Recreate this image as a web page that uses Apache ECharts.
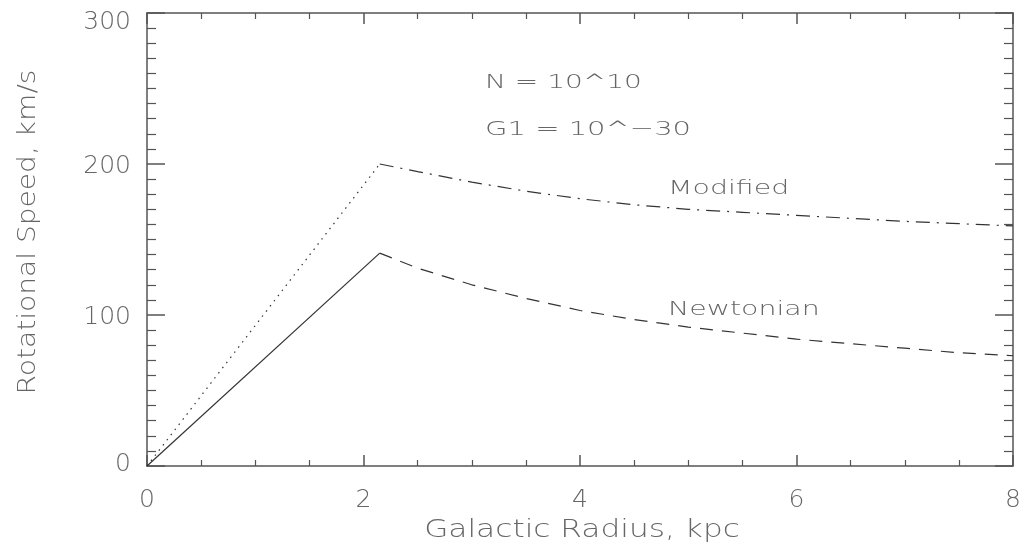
<!DOCTYPE html>
<html>
<head>
<meta charset="utf-8">
<script src="https://cdn.jsdelivr.net/npm/echarts@6/dist/echarts.min.js"></script>
<style>
  html, body { margin: 0; padding: 0; background: #fff; }
  #main { width: 1026px; height: 551px; }
</style>
</head>
<body>
<div id="main"></div>
<script>
// rising part (inside the core), r in kpc
var riseR = [0, 2.15];
var newtRise = [0, 141];
var modRise = [0, 200];

// falling part
var fallR = [2.15, 2.5, 3, 3.5, 4, 4.5, 5, 5.5, 6, 6.5, 7, 7.5, 8];
var newtFall = [141, 131, 120, 111, 103, 97, 92, 88, 84, 81, 78, 75, 73];
var modFall = [200, 195, 188, 182, 177, 173, 170, 168, 166, 164, 162, 160.5, 159];

var xTicks = [0, 2, 4, 6, 8];
var yTicks = [0, 100, 200, 300];

var txtColor = '#666';
var lineColor = '#333';
var fontFam = "'DejaVu Sans', sans-serif";

function pairs(xs, ys) {
    var out = [];
    for (var i = 0; i < xs.length; i++) out.push([xs[i], ys[i]]);
    return out;
}

function addLine(name, xs, ys, dash) {
    return {
        name: name,
        type: 'line',
        data: pairs(xs, ys),
        showSymbol: false,
        symbol: 'none',
        silent: true,
        lineStyle: { color: lineColor, width: 1.2, type: dash },
        z: 3
    };
}

// the original font is a wide stroke font, so text is stretched sideways
function note(x, y, text, size, sx, extra) {
    var el = {
        type: 'text', x: x, y: y, scaleX: sx, silent: true,
        style: { text: text, fill: txtColor, fontSize: size, fontWeight: 200, fontFamily: fontFam,
                 verticalAlign: 'middle', align: 'left' }
    };
    if (extra) {
        for (var k in extra) el[k] = extra[k];
        if (extra.align) el.style.align = extra.align;
    }
    return el;
}

var axisLineStyle = { color: '#555', width: 1.5 };
var minorLine = { color: '#555', width: 1.2 };
var tickFont = { color: txtColor, fontSize: 25, fontWeight: 200, fontFamily: fontFam };

var myChart = echarts.init(document.getElementById('main'));
var option = {
    backgroundColor: '#fff',
    animation: false,
    textStyle: { fontFamily: fontFam },
    grid: { left: 147, right: 13, top: 13, bottom: 85 },
    xAxis: [{
        type: 'value',
        min: xTicks[0],
        max: xTicks[xTicks.length - 1],
        interval: 2,
        axisLine: { show: true, lineStyle: axisLineStyle },
        axisTick: { show: true, inside: true, length: 11, lineStyle: axisLineStyle },
        minorTick: { show: true, splitNumber: 4, length: 6, lineStyle: minorLine },
        axisLabel: { color: txtColor, fontSize: 25, fontWeight: 200, margin: 22, fontFamily: fontFam },
        splitLine: { show: false }
    }, {
        type: 'value',
        position: 'top',
        min: xTicks[0],
        max: xTicks[xTicks.length - 1],
        interval: 2,
        axisLine: { show: true, onZero: false, lineStyle: axisLineStyle },
        axisTick: { show: true, inside: true, length: 11, lineStyle: axisLineStyle },
        minorTick: { show: true, splitNumber: 4, length: 6, lineStyle: minorLine },
        axisLabel: { show: false },
        splitLine: { show: false }
    }],
    yAxis: [{
        type: 'value',
        min: yTicks[0],
        max: yTicks[yTicks.length - 1],
        interval: 100,
        axisLine: { show: true, lineStyle: axisLineStyle },
        axisTick: { show: true, inside: true, length: 18, lineStyle: axisLineStyle },
        minorTick: { show: true, splitNumber: 10, length: 9, lineStyle: minorLine },
        axisLabel: {
            color: txtColor, fontSize: 25, fontWeight: 200, margin: 16, fontFamily: fontFam,
            formatter: function (v) {
                if (v === yTicks[yTicks.length - 1]) return '{top|' + v + '}';
                if (v === yTicks[0]) return '{bot|' + v + '}';
                return '{mid|' + v + '}';
            },
            rich: {
                top: Object.assign({ padding: [18, 0, 0, 0] }, tickFont),
                mid: Object.assign({ padding: [4, 0, 0, 0] }, tickFont),
                bot: Object.assign({ padding: [0, 0, 4, 0] }, tickFont)
            }
        },
        splitLine: { show: false }
    }, {
        type: 'value',
        position: 'right',
        min: yTicks[0],
        max: yTicks[yTicks.length - 1],
        interval: 100,
        axisLine: { show: true, onZero: false, lineStyle: axisLineStyle },
        axisTick: { show: true, inside: true, length: 18, lineStyle: axisLineStyle },
        minorTick: { show: true, splitNumber: 10, length: 9, lineStyle: minorLine },
        axisLabel: { show: false },
        splitLine: { show: false }
    }],
    series: [
        addLine('Newtonian core', riseR, newtRise, 'solid'),
        addLine('Newtonian', fallR, newtFall, [13, 9]),
        addLine('Modified core', riseR, modRise, [1.5, 5]),
        addLine('Modified', fallR, modFall, [14, 7, 2, 7])
    ],
    graphic: [
        note(582, 531, 'Galactic Radius, kpc', 24, 1.3, { align: 'center' }),
        note(29, 232, 'Rotational Speed, km/s', 24, 1.17, { align: 'center', rotation: Math.PI / 2 }),
        note(485, 83, 'N = 10^10', 20, 1.4),
        note(485, 130, 'G1 = 10^\u221230', 20, 1.45),
        note(668, 189, 'Modified', 20, 1.42),
        note(668, 310, 'Newtonian', 20, 1.42)
    ]
};
myChart.setOption(option);
</script>
</body>
</html>
